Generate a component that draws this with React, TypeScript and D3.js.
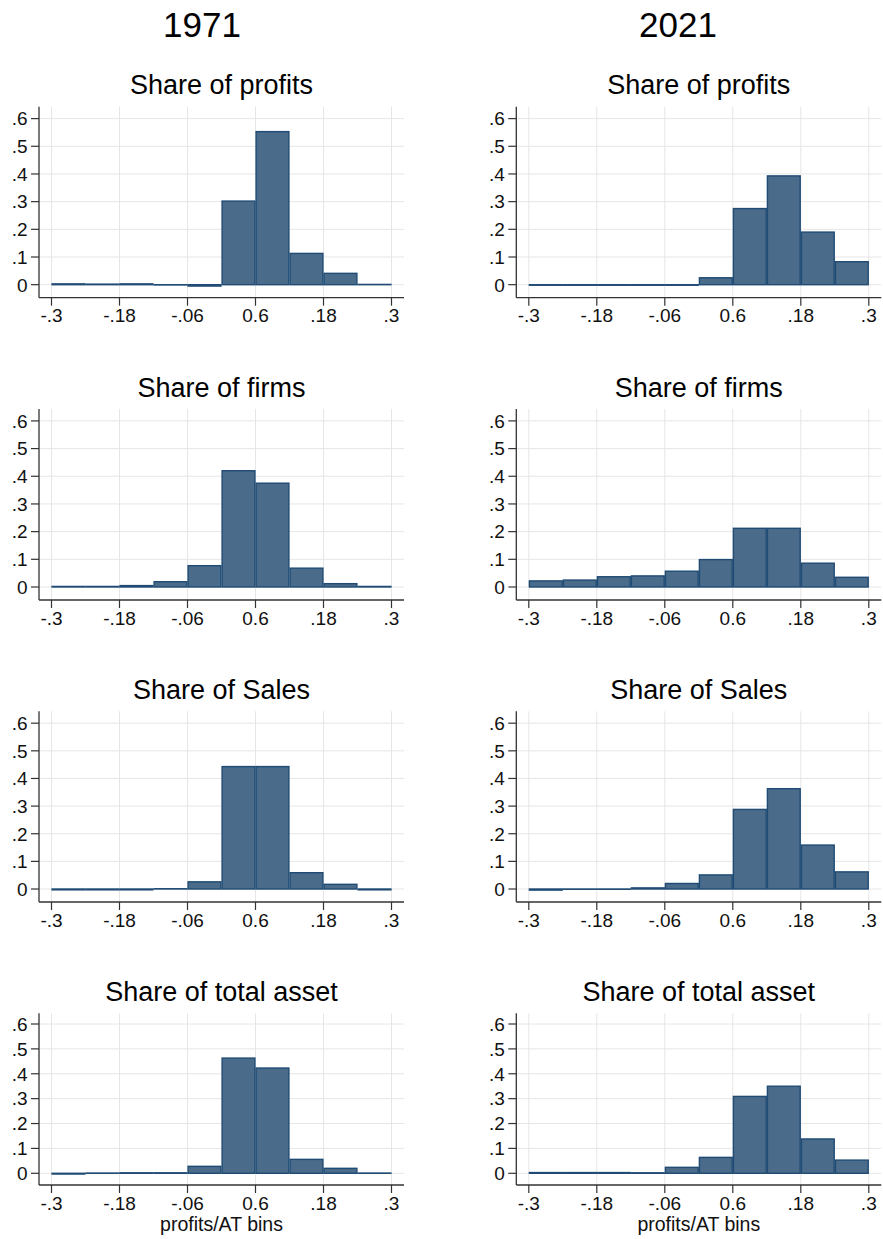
import React from "react";
import * as d3 from "d3";

// Bin edges: ten bins of width .06 from -.3 to .3
const binEdges = [-0.3, -0.24, -0.18, -0.12, -0.06, 0, 0.06, 0.12, 0.18, 0.24, 0.3];

// Axis ticks (labels as printed on the original figure)
const xTickValues = [-0.3, -0.18, -0.06, 0.06, 0.18, 0.3];
const xTickLabels = ["-.3", "-.18", "-.06", "0.6", ".18", ".3"];
const yTickValues = [0, 0.1, 0.2, 0.3, 0.4, 0.5, 0.6];
const yTickLabels = ["0", ".1", ".2", ".3", ".4", ".5", ".6"];

const years = ["1971", "2021"];
const panelTitles = ["Share of profits", "Share of firms", "Share of Sales", "Share of total asset"];
const xAxisTitle = "profits/AT bins";

// Shares per bin, 1971
const profits1971 = [0.003, 0.002, 0.003, -0.001, -0.005, 0.302, 0.553, 0.113, 0.041, 0.001];
const firms1971 = [0.002, 0.002, 0.005, 0.019, 0.077, 0.42, 0.375, 0.068, 0.012, 0.002];
const sales1971 = [-0.003, -0.003, -0.003, 0.001, 0.026, 0.443, 0.443, 0.059, 0.017, -0.003];
const assets1971 = [-0.003, 0.001, 0.002, 0.002, 0.028, 0.463, 0.423, 0.056, 0.02, 0.001];

// Shares per bin, 2021
const profits2021 = [-0.002, -0.002, -0.002, -0.002, -0.002, 0.025, 0.275, 0.393, 0.19, 0.083];
const firms2021 = [0.022, 0.025, 0.037, 0.04, 0.057, 0.099, 0.212, 0.212, 0.086, 0.035];
const sales2021 = [-0.004, -0.001, -0.001, 0.004, 0.02, 0.051, 0.288, 0.363, 0.159, 0.062];
const assets2021 = [0.003, 0.003, 0.003, 0.002, 0.024, 0.064, 0.309, 0.35, 0.138, 0.053];

const seriesByColumn = [
  [profits1971, firms1971, sales1971, assets1971],
  [profits2021, firms2021, sales2021, assets2021],
];

const W = 883;
const H = 1239;
const FONT = "'Liberation Sans', Arial, Helvetica, sans-serif";
const colAxisX = [39, 516.3];
const plotWidth = 365;
const xPad = 12.5;
const rowTop = [106.7, 409, 711.3, 1013.3];
const rowBottom = [297.7, 600, 902, 1185];
const headerX = [202, 678];

const FILL = "#4a6b8a";
const STROKE = "#1f4b74";
const GRID = "#e6e6e6";
const AXIS = "#333333";

function Panel({ col, row }: { col: number; row: number }) {
  const left = colAxisX[col];
  const right = left + plotWidth;
  const top = rowTop[row];
  const bottom = rowBottom[row];
  const x = d3.scaleLinear().domain([-0.3, 0.3]).range([left + xPad, right - xPad]);
  const y = d3.scaleLinear().domain([-0.047, 0.643]).range([bottom, top]);
  const values = seriesByColumn[col][row];
  const cx = (left + right) / 2;

  return (
    <g>
      <text x={cx} y={top - 12.4} textAnchor="middle" fontSize={27} fill="#000">
        {panelTitles[row]}
      </text>
      {/* grid */}
      {yTickValues.map((v) => (
        <line key={"gy" + v} x1={left} x2={right} y1={y(v)} y2={y(v)} stroke={GRID} strokeWidth={1} />
      ))}
      {xTickValues.map((v) => (
        <line key={"gx" + v} x1={x(v)} x2={x(v)} y1={top} y2={bottom} stroke={GRID} strokeWidth={1} />
      ))}
      {/* bars */}
      {values.map((v, i) => {
        const x0 = x(binEdges[i]);
        const x1 = x(binEdges[i + 1]);
        const yTop = Math.min(y(v), y(0));
        const h = Math.abs(y(v) - y(0));
        return (
          <rect
            key={"b" + i}
            x={x0 + 0.6}
            y={yTop}
            width={x1 - x0 - 1.2}
            height={Math.max(h, 0.01)}
            fill={FILL}
            stroke={STROKE}
            strokeWidth={1.4}
          />
        );
      })}
      {/* axes */}
      <line x1={left} x2={left} y1={top} y2={bottom} stroke={AXIS} strokeWidth={1.3} />
      <line x1={left} x2={right} y1={bottom} y2={bottom} stroke={AXIS} strokeWidth={1.3} />
      {yTickValues.map((v, i) => (
        <g key={"yt" + v}>
          <line x1={left - 8} x2={left} y1={y(v)} y2={y(v)} stroke={AXIS} strokeWidth={1.2} />
          <text x={left - 11.5} y={y(v)} dy="0.36em" textAnchor="end" fontSize={19} fill="#111">
            {yTickLabels[i]}
          </text>
        </g>
      ))}
      {xTickValues.map((v, i) => (
        <g key={"xt" + v}>
          <line x1={x(v)} x2={x(v)} y1={bottom} y2={bottom + 8} stroke={AXIS} strokeWidth={1.2} />
          <text x={x(v)} y={bottom + 24.5} textAnchor="middle" fontSize={19} fill="#111">
            {xTickLabels[i]}
          </text>
        </g>
      ))}
      {row === 3 && (
        <text x={cx} y={bottom + 46} textAnchor="middle" fontSize={19.5} fill="#111">
          {xAxisTitle}
        </text>
      )}
    </g>
  );
}

export default function App() {
  return (
    <svg
      width={W}
      height={H}
      viewBox={`0 0 ${W} ${H}`}
      style={{ position: "absolute", left: 0, top: 0, background: "#fff", fontFamily: FONT }}
    >
      <rect width={W} height={H} fill="#fff" />
      {years.map((yr, c) => (
        <text key={yr} x={headerX[c]} y={36.7} textAnchor="middle" fontSize={35} fill="#000">
          {yr}
        </text>
      ))}
      {[0, 1].map((c) =>
        [0, 1, 2, 3].map((r) => <Panel key={c + "-" + r} col={c} row={r} />)
      )}
    </svg>
  );
}
